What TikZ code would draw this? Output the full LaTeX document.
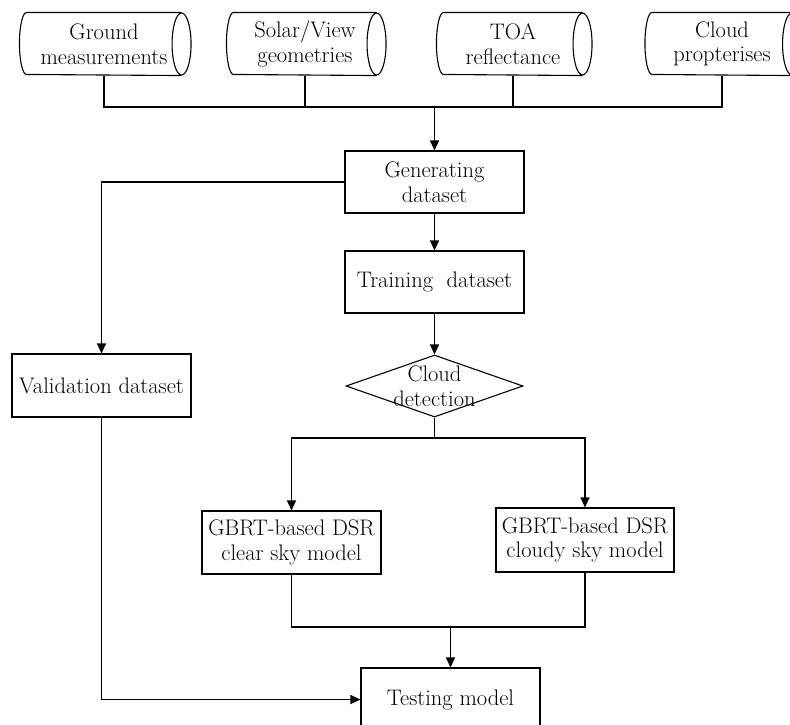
\documentclass[tikz,border=0pt]{standalone}
\usetikzlibrary{arrows.meta,shapes.geometric}
\begin{document}
\begin{tikzpicture}[x=1pt,y=-1pt,line width=1.1pt,
  every node/.style={font=\fontsize{22.5}{24.5}\selectfont, align=center, inner sep=0pt},
  box/.style={draw, rectangle, minimum width=179pt, minimum height=63pt},
  cyl/.style={minimum height=62pt},
  arr/.style={-{Triangle[length=10pt,width=9pt]}}]
\useasboundingbox (0,0) rectangle (790,724);
\clip (0,0) rectangle (790,724);

% cylinders (data sources)
\node[cyl, minimum width=154pt] (gm)  at (104,44) {Ground\\measurements};
\node[cyl, minimum width=142pt] (sv)  at (305,44) {Solar/View\\geometries};
\node[cyl, minimum width=138pt] (toa) at (513,44) {TOA\\reflectance};
\node[cyl, minimum width=139pt] (cp)  at (722,44) {Cloud\\propterises};
\foreach \n in {gm,sv,toa,cp}{
  \draw (\n.north east) -- (\n.north west)
        arc[start angle=90,end angle=270,x radius=7pt,y radius=31pt]
        -- (\n.south east);
  \draw (\n.east) ellipse[x radius=9.5pt,y radius=31pt];
}

% process boxes
\node[box, minimum height=62pt] (gen)   at (434.5,182) {Generating\\dataset};
\node[box, minimum height=62pt] (train) at (434.5,282) {Training\ \ dataset};
\node[draw, diamond, minimum width=177pt, minimum height=62pt] (cd) at (434.5,386) {};
\node (cdt) at (434.5,386) {Cloud\\detection};
\node[box] (val)    at (101.5,385.5) {Validation dataset};
\node[box] (clear)  at (291.5,542.5) {GBRT-based DSR\\clear sky model};
\node[box, minimum width=178pt, minimum height=64pt] (cloudy) at (585,540) {GBRT-based DSR\\cloudy sky model};
\node[box] (test)   at (450.5,699.5) {Testing model};

% junction points
\coordinate (bus) at (434.5,107);
\coordinate (s1)  at (434.5,438);
\coordinate (s2)  at (450.5,627);

% connectors
\draw (gm.south) |- (bus);
\draw (sv.south) -- (sv.south |- bus);
\draw (toa.south) -- (toa.south |- bus);
\draw (cp.south) |- (bus);
\draw[arr] (bus) -- (gen.north);
\draw[arr] (gen.south) -- (train.north);
\draw[arr] (train.south) -- (cd.north);
\draw[arr] (gen.west) -| (val.north);
\draw (cd.south) -- (s1);
\draw[arr] (s1) -| (clear.north);
\draw[arr] (s1) -| (cloudy.north);
\draw (clear.south) |- (s2);
\draw (cloudy.south) |- (s2);
\draw[arr] (s2) -- (test.north);
\draw[arr] (val.south) |- (test.west);
\end{tikzpicture}
\end{document}
